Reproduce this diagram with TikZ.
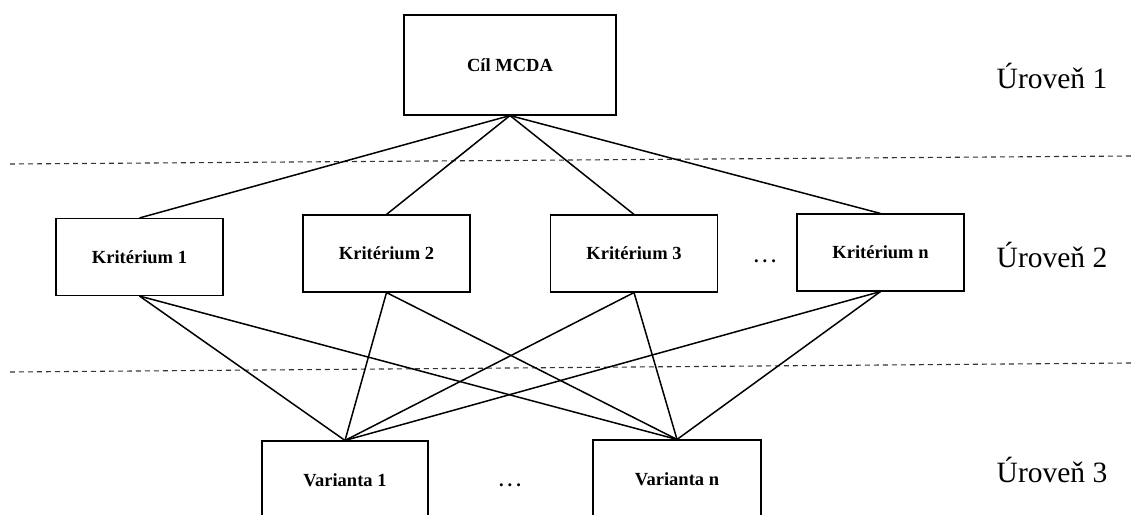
\documentclass[tikz,border=0pt]{standalone}
\usepackage{fontspec}
\setmainfont{Liberation Serif}
\begin{document}
\begin{tikzpicture}[x=1pt,y=-1pt,
  box/.style={draw, line width=1.1pt, inner sep=0pt, font=\fontsize{18.5}{20}\selectfont\bfseries,
    minimum width=167pt, minimum height=77pt},
  link/.style={line width=1.5pt},
  sep/.style={line width=1.1pt, dash pattern=on 5pt off 4pt, black!80},
  level/.style={font=\fontsize{29.5}{31}\selectfont, anchor=center},
  dots/.style={font=\fontsize{18.5}{20}\selectfont\bfseries}]
\useasboundingbox (0,0) rectangle (1132,514);
\clip (0,0) rectangle (1132,514);

% level separators
\coordinate (s1a) at (10,164);
\coordinate (s1b) at (1132,156);
\coordinate (s2a) at (10,372);
\coordinate (s2b) at (1132,363);
\draw[sep] (s1a) -- (s1b);
\draw[sep] (s2a) -- (s2b);

% goal
\node[box, minimum width=212pt, minimum height=100pt] (goal) at (510,65) {Cíl MCDA};

% criteria
\node[box] (k1) at (139.5,257) {Kritérium 1};
\node[box] (k2) at (386.5,253.5) {Kritérium 2};
\node[box] (k3) at (634,253.5) {Kritérium 3};
\node[box] (kn) at (880.5,252.5) {Kritérium n};
\node[dots] (kd) at (765,261) {.\hspace{4pt}.\hspace{4pt}.};

% alternatives
\node[box, minimum width=166pt, minimum height=78pt] (v1) at (345,480) {Varianta 1};
\node[box, minimum width=168pt, minimum height=78pt] (vn) at (677,479) {Varianta n};
\node[dots] (vd) at (510,485) {.\hspace{4pt}.\hspace{4pt}.};

% level labels
\node[level] (l1) at (1052,76) {Úroveň 1};
\node[level] (l2) at (1052,255) {Úroveň 2};
\node[level] (l3) at (1052,470) {Úroveň 3};

% goal to criteria
\foreach \k in {k1,k2,k3,kn}
  \draw[link] (goal.south) -- (\k.north);

% criteria to alternatives
\foreach \k in {k1,k2,k3,kn}{
  \draw[link] (\k.south) -- (v1.north);
  \draw[link] (\k.south) -- (vn.north);
}
\end{tikzpicture}
\end{document}
